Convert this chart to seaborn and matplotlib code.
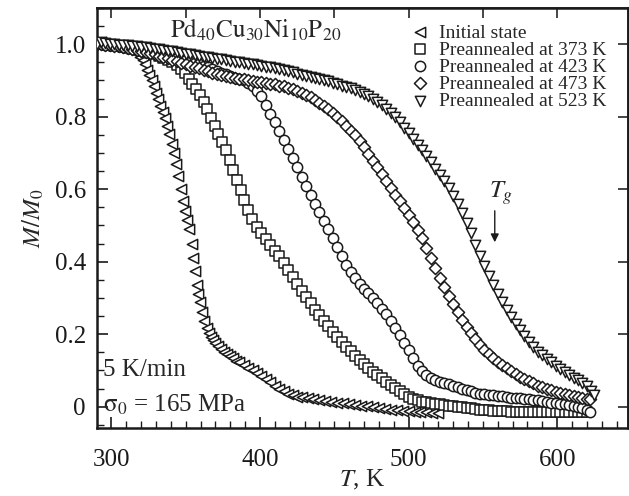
import matplotlib
matplotlib.use('Agg')
import matplotlib.pyplot as plt
from matplotlib.ticker import MultipleLocator, FuncFormatter
import seaborn as sns

# temperature (K) and normalized M/M0 for each sample
T_init = [290, 293, 296, 299, 302, 305, 308, 311, 314, 317, 319, 321,
          322.5, 324, 325.5, 327, 328.5, 330, 331.5, 333, 334.5, 336, 337.5, 339, 340.5, 342,
          343.5, 345, 346.5, 348, 349.5, 351, 352.5, 354,
          355, 356, 357.3, 358.5, 359.5, 361, 362.5, 364, 365.5, 367, 368.5, 370,
          372, 374, 376, 378, 380, 382, 384, 386,
          389, 392, 395, 398, 401, 404, 407, 410, 413, 416, 419, 422, 425, 428,
          432, 436, 440, 444, 448, 452, 456, 460, 464, 468, 472, 476, 480, 484, 488, 492,
          496, 500, 504, 508, 512, 516, 520]
M_init = [1.00, 1.005, 1.0, 1.0, 0.998, 0.995, 0.993, 0.99, 0.985, 0.975, 0.965, 0.955,
          0.945, 0.93, 0.915, 0.9, 0.885, 0.865, 0.848, 0.83, 0.812, 0.795, 0.775, 0.752, 0.725, 0.7,
          0.67, 0.635, 0.6, 0.566, 0.54, 0.515, 0.49, 0.45,
          0.41, 0.375, 0.336, 0.31, 0.29, 0.262, 0.237, 0.217, 0.203, 0.192, 0.183, 0.176,
          0.168, 0.16, 0.152, 0.145, 0.139, 0.133, 0.127, 0.122,
          0.115, 0.107, 0.1, 0.093, 0.085, 0.076, 0.067, 0.058, 0.049, 0.042, 0.036, 0.031, 0.028, 0.026,
          0.024, 0.022, 0.019, 0.016, 0.013, 0.011, 0.009, 0.007, 0.005, 0.003, 0.001, -0.002, -0.004,
          -0.006, -0.008, -0.01, -0.012, -0.013, -0.014, -0.015, -0.016, -0.017, -0.018]

T_373 = [290, 293, 296, 299, 302, 305, 308, 311, 314, 317, 320, 323, 326, 329, 332, 335, 338, 341, 344, 347,
         349.5, 352, 354.5, 357, 359.5, 362, 364.5, 367, 369.5, 372, 374.5, 377, 379.5, 382, 384.5, 387,
         389.5, 392, 394.5,
         398, 401, 404, 407, 410, 413, 416, 419, 422, 425, 428, 431, 434, 437, 440, 443, 446, 449, 452, 455,
         458, 461, 464, 467, 470, 473, 476, 479, 482, 485, 488, 491, 494, 497,
         500, 503, 506, 509, 512, 515, 518, 521, 524, 527, 530, 533, 536, 539, 542, 545, 548, 551, 554, 557,
         560, 563, 566, 569, 572, 575, 578, 581, 584, 587,
         590, 593, 596, 599, 602, 605, 608, 611, 614, 617, 620]
M_373 = [1.0, 1.0, 1.0, 0.998, 0.996, 0.994, 0.992, 0.99, 0.987, 0.985, 0.982, 0.979, 0.976, 0.972, 0.968,
         0.963, 0.957, 0.95, 0.942, 0.932,
         0.92, 0.905, 0.89, 0.876, 0.86, 0.84, 0.82, 0.797, 0.775, 0.752, 0.73, 0.707, 0.68, 0.652, 0.624,
         0.597, 0.57, 0.543, 0.517,
         0.497, 0.479, 0.462, 0.445, 0.43, 0.415, 0.395, 0.377, 0.357, 0.338, 0.32, 0.302, 0.285, 0.268,
         0.252, 0.237, 0.222, 0.207, 0.192, 0.178, 0.165, 0.153, 0.141, 0.129, 0.117, 0.106, 0.096, 0.087,
         0.078, 0.069, 0.06, 0.051, 0.042, 0.034,
         0.027, 0.021, 0.017, 0.014, 0.012, 0.01, 0.008, 0.006, 0.005, 0.003, 0.002, 0.0, -0.002, -0.003,
         -0.004, -0.006, -0.008, -0.009, -0.01, -0.011, -0.012, -0.013, -0.013, -0.014, -0.014, -0.015,
         -0.015, -0.015, -0.015, -0.016,
         -0.016, -0.016, -0.016, -0.016, -0.016, -0.016, -0.016, -0.016, -0.016, -0.016, -0.016]

T_423 = [290, 293, 296, 299, 302, 305, 308, 311, 314, 317, 320, 323, 326, 329, 332, 335, 338, 341, 344, 347,
         350, 353, 356, 359, 362, 365, 368, 371, 374, 377, 380, 383, 386,
         389, 392, 395, 398, 401, 404, 407, 410, 413, 416, 419, 422, 425, 428, 431, 434, 437, 440, 443, 446,
         449, 452, 455, 458, 461, 464, 467, 470, 473, 476, 479, 482, 485, 488, 491, 494, 497, 500, 503, 506,
         509, 512, 515, 518, 521, 524, 527, 530, 533, 536, 539, 542, 545, 548, 551, 554, 557, 560, 563, 566,
         569, 572, 575, 578, 581, 584, 587, 590, 593, 596, 599, 602, 605, 608, 611, 614, 617, 620, 622]
M_423 = [1.0, 1.0, 0.999, 0.998, 0.997, 0.995, 0.993, 0.991, 0.989, 0.987, 0.985, 0.982, 0.98, 0.977,
         0.974, 0.971, 0.968, 0.964, 0.961, 0.957,
         0.955, 0.952, 0.948, 0.944, 0.94, 0.936, 0.931, 0.926, 0.921, 0.917, 0.912, 0.908, 0.904,
         0.9, 0.893, 0.885, 0.872, 0.856, 0.833, 0.808, 0.784, 0.76, 0.735, 0.71, 0.685, 0.66, 0.634, 0.608,
         0.585, 0.56, 0.537, 0.513, 0.49, 0.465, 0.44, 0.415, 0.392, 0.372, 0.354, 0.338, 0.325, 0.313, 0.3,
         0.286, 0.27, 0.255, 0.236, 0.217, 0.197, 0.176, 0.155, 0.133, 0.113, 0.098, 0.087, 0.079, 0.073,
         0.069, 0.066, 0.062, 0.058, 0.054, 0.05, 0.046, 0.042, 0.039, 0.036, 0.034, 0.032, 0.031, 0.03,
         0.029, 0.027, 0.025, 0.024, 0.023, 0.022, 0.021, 0.019, 0.017, 0.015, 0.013, 0.011, 0.009, 0.008,
         0.006, 0.004, 0.002, 0.0, -0.004, -0.01, -0.015]

T_473 = [290, 293, 296, 299, 302, 305, 308, 311, 314, 317, 320, 323, 326, 329, 332, 335, 338, 341, 344, 347,
         350, 353, 356, 359, 362, 365, 368, 371, 374, 377,
         380, 383, 386, 389, 392, 395, 398, 401, 404, 407, 410, 413, 416, 419, 422, 425, 428, 431, 434, 437,
         440, 443, 446, 449, 452, 455, 458, 461, 464, 467, 470, 473, 476, 479, 482, 485, 488, 491, 494, 497,
         500, 503, 506, 509, 512, 515, 518, 521, 524, 527, 530, 533, 536, 539, 542, 545, 548, 551, 554, 557,
         560, 563, 566, 569, 572, 575, 578, 581, 584, 587, 590, 593, 596, 599, 602, 605, 608, 611, 614, 617,
         620, 622]
M_473 = [1.0, 1.0, 0.999, 0.998, 0.996, 0.994, 0.992, 0.99, 0.987, 0.984, 0.981, 0.978, 0.975, 0.972,
         0.968, 0.965, 0.961, 0.957, 0.953, 0.949,
         0.945, 0.941, 0.937, 0.933, 0.929, 0.925, 0.921, 0.918, 0.915, 0.912,
         0.909, 0.907, 0.905, 0.903, 0.901, 0.899, 0.897, 0.895, 0.893, 0.891, 0.889, 0.886, 0.884, 0.88,
         0.876, 0.871, 0.866, 0.86, 0.853, 0.846,
         0.838, 0.83, 0.821, 0.811, 0.8, 0.788, 0.775, 0.76, 0.75, 0.733, 0.715, 0.697, 0.678, 0.66, 0.641,
         0.622, 0.604, 0.585, 0.567, 0.548,
         0.529, 0.509, 0.488, 0.464, 0.438, 0.41, 0.383, 0.356, 0.33, 0.305, 0.282, 0.26, 0.24, 0.221, 0.203,
         0.186, 0.17, 0.156, 0.144, 0.133,
         0.123, 0.114, 0.106, 0.098, 0.09, 0.083, 0.076, 0.07, 0.064, 0.058, 0.053, 0.049, 0.045, 0.041,
         0.038, 0.035, 0.032, 0.029, 0.026, 0.024,
         0.022, 0.021]

T_523 = [290, 293, 296, 299, 302, 305, 308, 311, 314, 317, 320, 323, 326, 329, 332, 335, 338, 341, 344, 347,
         350, 353, 356, 359, 362, 365, 368, 371, 374, 377, 380, 383, 386, 389, 392, 395, 398, 401, 404, 407,
         410, 413, 416, 419, 422, 425, 428, 431, 434, 437, 440, 443, 446, 449, 452, 455, 458, 461, 464, 467,
         470, 473, 476, 479, 482, 485, 488, 491, 494, 497, 500, 503, 506, 509, 512, 515, 518, 521, 524, 527,
         530, 533, 536, 539, 542, 545, 548, 551, 554, 557, 560, 563, 566, 569, 572, 575, 578, 581, 584, 587,
         590, 593, 596, 599, 602, 605, 608, 611, 614, 617, 620, 623, 625]
M_523 = [1.0, 1.005, 1.003, 1.0, 1.0, 0.999, 0.998, 0.997, 0.996, 0.995, 0.993, 0.992, 0.99, 0.988,
         0.986, 0.984, 0.982, 0.98, 0.978, 0.976,
         0.974, 0.972, 0.97, 0.968, 0.966, 0.964, 0.962, 0.96, 0.958, 0.956, 0.954, 0.952, 0.95, 0.948,
         0.946, 0.944, 0.942, 0.94, 0.938, 0.936,
         0.934, 0.931, 0.928, 0.925, 0.922, 0.919, 0.916, 0.913, 0.91, 0.907, 0.904, 0.901, 0.898, 0.894,
         0.89, 0.886, 0.882, 0.878, 0.873, 0.868,
         0.862, 0.856, 0.849, 0.841, 0.832, 0.822, 0.811, 0.798, 0.784, 0.769, 0.754, 0.739, 0.723, 0.707,
         0.691, 0.674, 0.657, 0.64, 0.622, 0.603,
         0.582, 0.56, 0.535, 0.508, 0.478, 0.447, 0.417, 0.388, 0.36, 0.335, 0.312, 0.29, 0.268, 0.248,
         0.229, 0.211, 0.194, 0.178, 0.164, 0.152,
         0.142, 0.132, 0.122, 0.112, 0.103, 0.095, 0.087, 0.08, 0.073, 0.066, 0.056, 0.043, 0.033]

series_labels = ['Initial state', 'Preannealed at 373 K', 'Preannealed at 423 K',
                 'Preannealed at 473 K', 'Preannealed at 523 K']
series_T = [T_init, T_373, T_423, T_473, T_523]
series_M = [M_init, M_373, M_423, M_473, M_523]
series_markers = ['<', 's', 'o', 'D', 'v']
series_sizes = [55, 50, 55, 38, 55]

sns.set_theme(style='ticks')
plt.rcParams['font.family'] = ['Liberation Serif', 'DejaVu Serif']
plt.rcParams['mathtext.fontset'] = 'stix'

fig, ax = plt.subplots(figsize=(6.29, 4.96), dpi=100)
fig.subplots_adjust(left=0.154, right=0.998, bottom=0.137, top=0.984)

for T, M, lab, mk, sz in zip(series_T, series_M, series_labels, series_markers, series_sizes):
    sns.scatterplot(x=T, y=M, marker=mk, s=sz, color='white', edgecolor='#1a1a1a',
                    linewidth=1.1, label=lab, ax=ax, zorder=3)

ax.set_xlim(290.2, 647.5)
ax.set_ylim(-0.059, 1.10)
ax.set_xticks([300, 400, 500, 600])
ax.set_yticks([0, 0.2, 0.4, 0.6, 0.8, 1.0])
ax.xaxis.set_minor_locator(MultipleLocator(10))
ax.yaxis.set_minor_locator(MultipleLocator(0.05))
ax.yaxis.set_major_formatter(FuncFormatter(lambda v, p: '0' if abs(v) < 1e-9 else f'{v:.1f}'))
ax.tick_params(which='both', direction='in', top=False, right=False, labelsize=18, colors='#1a1a1a')
ax.tick_params(which='major', length=8, width=1.2)
ax.tick_params(which='minor', length=5, width=1.0)
ax.tick_params(axis='y', which='major', pad=8)
ax.tick_params(axis='x', which='major', pad=15)
for sp in ax.spines.values():
    sp.set_linewidth(1.8)
    sp.set_color('#1a1a1a')

top = ax.secondary_xaxis('top')
top.set_xticks([300, 350, 400, 450, 500, 550, 600])
top.tick_params(direction='in', length=7, width=1.2, labeltop=False)
right = ax.secondary_yaxis('right')
right.set_yticks([0, 0.2, 0.4, 0.6, 0.8, 1.0])
right.tick_params(direction='in', length=7, width=1.2, labelright=False)

ax.set_xlabel(r'$T$, K', fontsize=18, labelpad=-2)
ax.set_ylabel(r'$M/M_0$', fontsize=18, labelpad=6)

ax.text(397, 1.04, r'$\mathrm{Pd_{40}Cu_{30}Ni_{10}P_{20}}$', fontsize=18, ha='center', va='center')
ax.text(294.5, 0.10, '5 K/min', fontsize=18, ha='left', va='center')
ax.text(294.5, 0.005, r'$\mathrm{\sigma_0}$ = 165 MPa', fontsize=18, ha='left', va='center')
ax.text(562, 0.59, r'$T_g$', fontsize=18, ha='center', va='center')
ax.annotate('', xy=(558, 0.446), xytext=(558, 0.548),
            arrowprops=dict(arrowstyle='-|>', color='#1a1a1a', lw=1.0, mutation_scale=12))

ax.legend(loc='upper left', bbox_to_anchor=(0.59, 0.962), frameon=False, fontsize=14,
          handlelength=1.0, handletextpad=0.5, labelspacing=-0.03, borderpad=0, borderaxespad=0)

fig.savefig('out.png', dpi=100)
